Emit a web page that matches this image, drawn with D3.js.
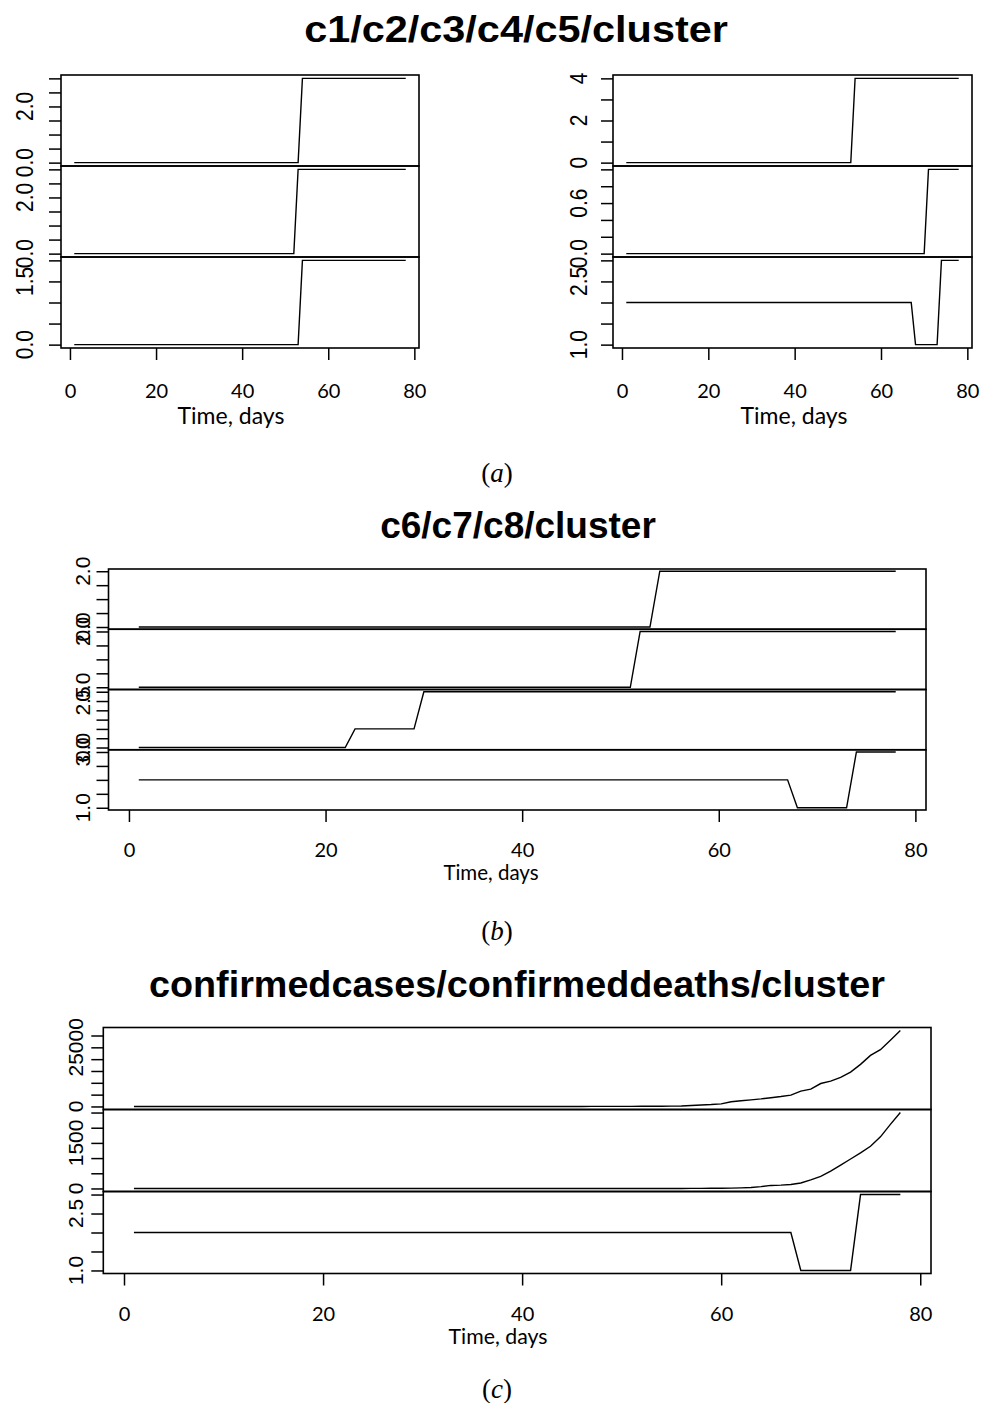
<!DOCTYPE html>
<html>
<head>
<meta charset="utf-8">
<script src="https://cdn.jsdelivr.net/npm/d3@7"></script>
<style>
  body { margin: 0; background: #fff; }
  svg { display: block; }
</style>
</head>
<body>
<div id="chart"></div>
<script>
const width = 981, height = 1403;

// time axis, days 1..78
const days = [1,2,3,4,5,6,7,8,9,10,11,12,13,14,15,16,17,18,19,20,
  21,22,23,24,25,26,27,28,29,30,31,32,33,34,35,36,37,38,39,40,
  41,42,43,44,45,46,47,48,49,50,51,52,53,54,55,56,57,58,59,60,
  61,62,63,64,65,66,67,68,69,70,71,72,73,74,75,76,77,78];

const c1 = [0,0,0,0,0,0,0,0,0,0, 0,0,0,0,0,0,0,0,0,0, 0,0,0,0,0,0,0,0,0,0, 0,0,0,0,0,0,0,0,0,0,
  0,0,0,0,0,0,0,0,0,0, 0,0,0,3,3,3,3,3,3,3, 3,3,3,3,3,3,3,3,3,3, 3,3,3,3,3,3,3,3];
const c2 = [0,0,0,0,0,0,0,0,0,0, 0,0,0,0,0,0,0,0,0,0, 0,0,0,0,0,0,0,0,0,0, 0,0,0,0,0,0,0,0,0,0,
  0,0,0,0,0,0,0,0,0,0, 0,0,3,3,3,3,3,3,3,3, 3,3,3,3,3,3,3,3,3,3, 3,3,3,3,3,3,3,3];
const c3 = [0,0,0,0,0,0,0,0,0,0, 0,0,0,0,0,0,0,0,0,0, 0,0,0,0,0,0,0,0,0,0, 0,0,0,0,0,0,0,0,0,0,
  0,0,0,0,0,0,0,0,0,0, 0,0,0,2,2,2,2,2,2,2, 2,2,2,2,2,2,2,2,2,2, 2,2,2,2,2,2,2,2];
const c4 = [0,0,0,0,0,0,0,0,0,0, 0,0,0,0,0,0,0,0,0,0, 0,0,0,0,0,0,0,0,0,0, 0,0,0,0,0,0,0,0,0,0,
  0,0,0,0,0,0,0,0,0,0, 0,0,0,4,4,4,4,4,4,4, 4,4,4,4,4,4,4,4,4,4, 4,4,4,4,4,4,4,4];
const c5 = [0,0,0,0,0,0,0,0,0,0, 0,0,0,0,0,0,0,0,0,0, 0,0,0,0,0,0,0,0,0,0, 0,0,0,0,0,0,0,0,0,0,
  0,0,0,0,0,0,0,0,0,0, 0,0,0,0,0,0,0,0,0,0, 0,0,0,0,0,0,0,0,0,0, 1,1,1,1,1,1,1,1];
const c6 = [0,0,0,0,0,0,0,0,0,0, 0,0,0,0,0,0,0,0,0,0, 0,0,0,0,0,0,0,0,0,0, 0,0,0,0,0,0,0,0,0,0,
  0,0,0,0,0,0,0,0,0,0, 0,0,0,2,2,2,2,2,2,2, 2,2,2,2,2,2,2,2,2,2, 2,2,2,2,2,2,2,2];
const c7 = [0,0,0,0,0,0,0,0,0,0, 0,0,0,0,0,0,0,0,0,0, 0,0,0,0,0,0,0,0,0,0, 0,0,0,0,0,0,0,0,0,0,
  0,0,0,0,0,0,0,0,0,0, 0,2,2,2,2,2,2,2,2,2, 2,2,2,2,2,2,2,2,2,2, 2,2,2,2,2,2,2,2];
const c8 = [0,0,0,0,0,0,0,0,0,0, 0,0,0,0,0,0,0,0,0,0, 0,0,1,1,1,1,1,1,1,3, 3,3,3,3,3,3,3,3,3,3,
  3,3,3,3,3,3,3,3,3,3, 3,3,3,3,3,3,3,3,3,3, 3,3,3,3,3,3,3,3,3,3, 3,3,3,3,3,3,3,3];
const cluster = [2,2,2,2,2,2,2,2,2,2, 2,2,2,2,2,2,2,2,2,2, 2,2,2,2,2,2,2,2,2,2, 2,2,2,2,2,2,2,2,2,2,
  2,2,2,2,2,2,2,2,2,2, 2,2,2,2,2,2,2,2,2,2, 2,2,2,2,2,2,2,1,1,1, 1,1,1,3,3,3,3,3];
const confirmedcases = [0,0,0,0,0,0,0,0,0,0, 0,0,0,0,0,0,0,0,0,0, 0,0,0,0,0,0,0,0,0,0,
  0,0,1,1,1,2,2,3,3,4, 5,6,8,10,12,15,19,24,30,38, 48,60,80,110,150,220,400,600,800,1100,
  2000,2400,2800,3200,3700,4200,4800,6500,7300,9700, 10700,12300,14500,17800,21600,24000,28000,32100];
const confirmeddeaths = [0,0,0,0,0,0,0,0,0,0, 0,0,0,0,0,0,0,0,0,0, 0,0,0,0,0,0,0,0,0,0,
  0,0,0,0,0,0,0,0,0,0, 0,0,0,0,0,0,0,0,0,0, 0,0,0,0,1,1,2,3,5,8,
  12,20,30,60,100,110,130,180,280,400, 570,770,970,1170,1390,1700,2110,2500];

// y tick values and which of them carry a label
const ticksHalf3 = [0, 0.5, 1, 1.5, 2, 2.5, 3];
const ticksHalf2 = [0, 0.5, 1, 1.5, 2];
const ticksOne4 = [0, 1, 2, 3, 4];
const ticksFifth1 = [0, 0.2, 0.4, 0.6, 0.8, 1];
const ticksCluster = [1, 1.5, 2, 2.5, 3];
const ticksCases = [0, 5000, 10000, 15000, 20000, 25000, 30000];
const ticksDeaths = [0, 500, 1000, 1500, 2000, 2500];
const xTicks = [0, 20, 40, 60, 80];

const figures = [
  { left: 61, right: 419, top: 75, bottom: 348, labelX: 33, stretch: 1.12, tickY: 398,
    xlab: [231, 424, 23],
    rows: [
      { values: c1, ticks: ticksHalf3, labels: [[0, "0.0"], [2, "2.0"]] },
      { values: c2, ticks: ticksHalf3, labels: [[0, "0.0"], [2, "2.0"]] },
      { values: c3, ticks: ticksHalf2, labels: [[0, "0.0"], [1.5, "1.5"]] }
    ] },
  { left: 613, right: 972, top: 75, bottom: 348, labelX: 587, stretch: 1.12, tickY: 398,
    xlab: [794, 424, 23],
    rows: [
      { values: c4, ticks: ticksOne4, labels: [[0, "0"], [2, "2"], [4, "4"]] },
      { values: c5, ticks: ticksFifth1, labels: [[0, "0.0"], [0.6, "0.6"]] },
      { values: cluster, ticks: ticksCluster, labels: [[1, "1.0"], [2.5, "2.5"]] }
    ] },
  { left: 108.5, right: 926, top: 569, bottom: 810, labelX: 90, stretch: 1, tickY: 857,
    xlab: [491, 880, 20.5],
    rows: [
      { values: c6, ticks: ticksHalf2, labels: [[0, "0.0"], [2, "2.0"]] },
      { values: c7, ticks: ticksHalf2, labels: [[0, "0.0"], [2, "2.0"]] },
      { values: c8, ticks: ticksHalf3, labels: [[0, "0.0"], [2.5, "2.5"]] },
      { values: cluster, ticks: ticksCluster, labels: [[1, "1.0"], [3, "3.0"]] }
    ] },
  { left: 103.3, right: 931, top: 1027.5, bottom: 1273.5, labelX: 83, stretch: 1, tickY: 1321,
    xlab: [498, 1344, 21.3],
    rows: [
      { values: confirmedcases, ticks: ticksCases, labels: [[0, "0"], [25000, "25000"]] },
      { values: confirmeddeaths, ticks: ticksDeaths, labels: [[0, "0"], [1500, "1500"]] },
      { values: cluster, ticks: ticksCluster, labels: [[1, "1.0"], [2.5, "2.5"]] }
    ] }
];

const titles = [
  ["c1/c2/c3/c4/c5/cluster", 516, 42, 1.12],
  ["c6/c7/c8/cluster", 518, 538, 1.0],
  ["confirmedcases/confirmeddeaths/cluster", 517, 997, 1.02]
];
const captions = [["a", 497, 482], ["b", 497, 940], ["c", 497, 1398]];

const svg = d3.select("#chart").append("svg")
  .attr("width", width)
  .attr("height", height);

const sans = "'Liberation Sans', Arial, sans-serif";
const narrow = "Lato, 'Open Sans', sans-serif";

figures.forEach(function(fig) {
  // R style: 4% padding on both ends of the time range
  let span = d3.max(days) - d3.min(days);
  let x = d3.scaleLinear()
    .domain([d3.min(days) - 0.04 * span, d3.max(days) + 0.04 * span])
    .range([fig.left, fig.right]);

  let rowH = (fig.bottom - fig.top) / fig.rows.length;

  fig.rows.forEach(function(row, i) {
    let top = fig.top + i * rowH;
    let bottom = top + rowH;
    let ext = d3.extent(row.values);
    let r = ext[1] - ext[0];
    let y = d3.scaleLinear()
      .domain([ext[0] - 0.04 * r, ext[1] + 0.04 * r])
      .range([bottom, top]);

    let g = svg.append("g");

    g.append("rect")
      .attr("x", fig.left)
      .attr("y", top)
      .attr("width", fig.right - fig.left)
      .attr("height", rowH)
      .attr("fill", "none")
      .attr("stroke", "#000")
      .attr("stroke-width", 1.6);

    let ax = g.append("g")
      .attr("transform", `translate(${fig.left},0)`)
      .call(d3.axisLeft(y).tickValues(row.ticks).tickSize(12).tickFormat(""));
    ax.select(".domain").remove();
    ax.selectAll("line").attr("stroke-width", 1.5);

    row.labels.forEach(function(l) {
      g.append("text")
        .attr("transform", `translate(${fig.labelX},${y(l[0])}) scale(${fig.stretch},1) rotate(-90)`)
        .style("text-anchor", "middle")
        .style("font-family", sans)
        .style("font-size", "21px")
        .text(l[1]);
    });

    let line = d3.line()
      .x(function(d, j) { return x(days[j]); })
      .y(function(d) { return y(d); });

    g.append("path")
      .datum(row.values)
      .attr("d", line)
      .attr("fill", "none")
      .attr("stroke", "#000")
      .attr("stroke-width", 1.4);
  });

  let xa = svg.append("g")
    .attr("transform", `translate(0,${fig.bottom})`)
    .call(d3.axisBottom(x).tickValues(xTicks).tickSize(12));
  xa.select(".domain").remove();
  xa.selectAll("line").attr("stroke-width", 1.5);
  xa.selectAll("text")
    .attr("dy", null)
    .attr("y", fig.tickY - fig.bottom)
    .style("font-family", narrow)
    .style("font-size", "20px");

  svg.append("text")
    .attr("x", fig.xlab[0])
    .attr("y", fig.xlab[1])
    .style("text-anchor", "middle")
    .style("font-family", narrow)
    .style("font-size", fig.xlab[2] + "px")
    .text("Time, days");
});

titles.forEach(function(t) {
  svg.append("text")
    .attr("transform", `translate(${t[1]},${t[2]}) scale(${t[3]},1)`)
    .style("text-anchor", "middle")
    .style("font-family", sans)
    .style("font-weight", "bold")
    .style("font-size", "37px")
    .text(t[0]);
});

captions.forEach(function(c) {
  let txt = svg.append("text")
    .attr("x", c[1])
    .attr("y", c[2])
    .style("text-anchor", "middle")
    .style("font-family", "'Liberation Serif', 'Times New Roman', serif")
    .style("font-size", "27px");
  txt.append("tspan").text("(");
  txt.append("tspan").style("font-style", "italic").text(c[0]);
  txt.append("tspan").text(")");
});
</script>
</body>
</html>
